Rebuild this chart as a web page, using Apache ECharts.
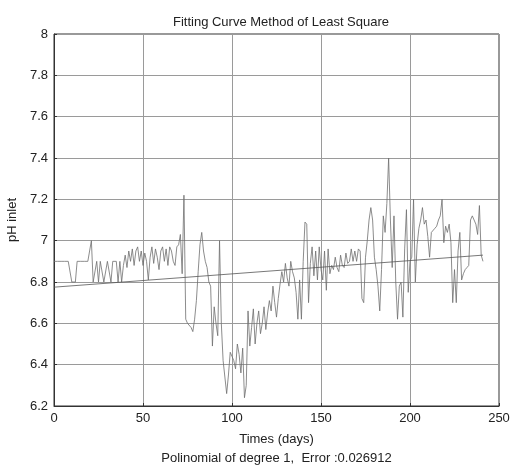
<!DOCTYPE html>
<html>
<head>
<meta charset="utf-8">
<script src="https://cdn.jsdelivr.net/npm/echarts@6/dist/echarts.min.js"></script>
<style>
  html, body { margin: 0; padding: 0; background: #fff; }
  #chart { width: 510px; height: 468px; }
</style>
</head>
<body>
<div id="chart"></div>
<script>
// Daily pH readings at the inlet, day 0 .. 241
const phInlet = [
  6.9, 6.9, 6.9, 6.9, 6.9, 6.9, 6.9, 6.9, 6.9, 6.9,
  6.8, 6.8, 6.8, 6.9, 6.9, 6.9, 6.9, 6.9, 6.9, 6.9,
  6.9, 7.0, 6.8, 6.8, 6.9, 6.8, 6.9, 6.9, 6.8, 6.8,
  6.9, 6.9, 6.8, 6.9, 6.9, 6.9, 6.8, 6.9, 6.8, 6.88,
  6.93, 6.87, 6.95, 6.9, 6.96, 6.88, 6.95, 6.97, 6.9, 6.95,
  6.88, 6.94, 6.9, 6.81, 6.92, 6.97, 6.89, 6.96, 6.92, 6.86,
  6.95, 6.97, 6.9, 6.96, 6.88, 6.97, 6.95, 6.9, 6.88, 6.97,
  6.98, 7.03, 6.84, 7.22, 6.62, 6.6, 6.6, 6.58, 6.56, 6.62,
  6.71, 6.85, 6.98, 7.04, 6.95, 6.9, 6.87, 6.8, 6.78, 6.49,
  6.68, 6.6, 6.54, 7.0, 6.6, 6.42, 6.42, 6.26, 6.35, 6.46,
  6.44, 6.42, 6.38, 6.5, 6.45, 6.36, 6.48, 6.24, 6.3, 6.66,
  6.49, 6.58, 6.67, 6.5, 6.6, 6.66, 6.55, 6.6, 6.68, 6.57,
  6.65, 6.71, 6.66, 6.78, 6.7, 6.63, 6.72, 6.79, 6.85, 6.8,
  6.89, 6.82, 6.78, 6.9, 6.85, 6.82, 6.75, 6.62, 6.81, 6.62,
  6.9, 7.09, 7.08, 6.7, 6.89, 6.97, 6.83, 6.95, 6.81, 6.97,
  6.86, 6.81, 6.95, 6.76, 6.96, 6.84, 6.88, 6.86, 6.92, 6.87,
  6.85, 6.93, 6.88, 6.87, 6.94, 6.89, 6.9, 6.96, 6.9, 6.95,
  6.9, 6.96, 6.95, 6.72, 6.7, 6.92, 7.0, 7.1, 7.16, 7.1,
  6.92, 6.86, 6.78, 6.66, 6.86, 7.12, 7.04, 7.18, 7.4, 7.1,
  6.87, 7.12, 6.8, 6.62, 6.78, 6.8, 6.63, 6.96, 7.15, 6.75,
  6.9, 6.92, 7.2, 6.8, 6.98, 7.06, 7.1, 7.16, 7.08, 7.1,
  7.02, 6.92, 7.04, 7.04, 7.06, 7.07, 7.1, 7.12, 7.2, 6.99,
  7.07, 7.04, 7.08, 6.99, 6.7, 6.86, 6.7, 6.95, 7.04, 6.81,
  6.84, 6.86, 6.87, 6.88, 7.1, 7.12, 7.12, 7.08, 7.03, 7.17,
  6.93, 6.9
];

// First-degree least-squares fit, evaluated at the two ends of the record
const fitDays = [0, 241];
const fitValues = [6.775, 6.93];

const xTicks = [0, 50, 100, 150, 200, 250];
const yTicks = [6.2, 6.4, 6.6, 6.8, 7, 7.2, 7.4, 7.6, 7.8, 8];

const titleText = 'Fitting Curve Method of Least Square';
const xLabel = 'Times (days)';
const fitNote = 'Polinomial of degree 1,  Error :0.026912';
const yLabel = 'pH inlet';

const FONT = '"Liberation Sans", Arial, Helvetica, sans-serif';
const FS = 13;

const chart = echarts.init(document.getElementById('chart'), null, { renderer: 'canvas' });

chart.setOption({
  animation: false,
  backgroundColor: '#fff',
  title: {
    text: titleText,
    left: 276, top: 11, textAlign: 'center',
    textStyle: { fontFamily: FONT, fontSize: FS, fontWeight: 'normal', color: '#222' }
  },
  grid: {
    left: 54, right: 11, top: 34, bottom: 62,
    outerBoundsMode: 'none',
    show: true, borderColor: '#333', borderWidth: 1, backgroundColor: 'transparent'
  },
  xAxis: {
    type: 'value',
    min: xTicks[0], max: xTicks[xTicks.length - 1], interval: 50,
    name: xLabel + '\n' + fitNote,
    nameLocation: 'middle', nameGap: 23,
    nameTextStyle: { fontFamily: FONT, fontSize: FS, color: '#222', lineHeight: 19, verticalAlign: 'top' },
    axisLine: { show: true, lineStyle: { color: '#333', width: 1 } },
    axisTick: { show: true, inside: true, length: 3, lineStyle: { color: '#333' } },
    axisLabel: { fontFamily: FONT, fontSize: FS, color: '#222', margin: 6 },
    splitLine: { show: true, lineStyle: { color: '#9a9a9a', width: 1 } }
  },
  yAxis: {
    type: 'value',
    min: yTicks[0], max: yTicks[yTicks.length - 1], interval: 0.2,
    name: yLabel,
    nameLocation: 'middle', nameGap: 32, nameRotate: 90,
    nameTextStyle: { fontFamily: FONT, fontSize: FS, color: '#222' },
    axisLine: { show: true, lineStyle: { color: '#333', width: 1 } },
    axisTick: { show: true, inside: true, length: 3, lineStyle: { color: '#333' } },
    axisLabel: {
      fontFamily: FONT, fontSize: FS, color: '#222', margin: 6,
      formatter: v => String(Math.round(v * 10) / 10)
    },
    splitLine: { show: true, lineStyle: { color: '#9a9a9a', width: 1 } }
  },
  series: [
    {
      name: 'pH inlet',
      type: 'line',
      data: phInlet.map((v, day) => [day, v]),
      showSymbol: false,
      lineStyle: { color: '#6e6e6e', width: 0.8 },
      z: 3
    },
    {
      name: 'fit',
      type: 'line',
      data: fitDays.map((d, i) => [d, fitValues[i]]),
      showSymbol: false,
      lineStyle: { color: '#555', width: 0.8 },
      z: 4
    }
  ]
});
</script>
</body>
</html>
